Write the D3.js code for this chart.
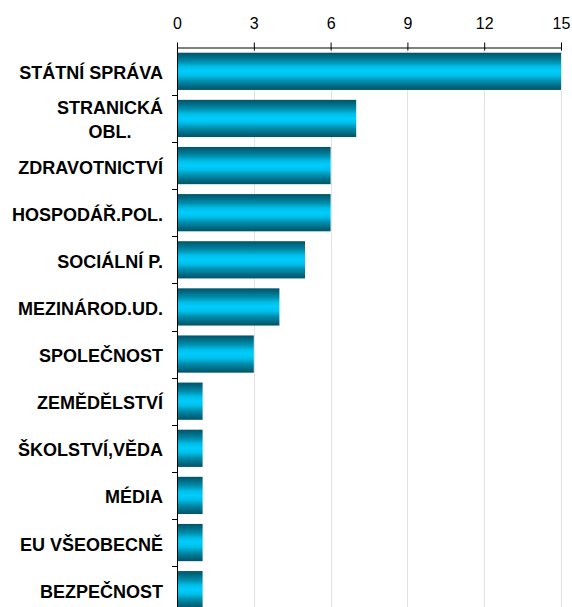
<!DOCTYPE html>
<html>
  <head>
    <meta http-equiv="Content-Type" content="text/html; charset=UTF-8">
    <script src="https://d3js.org/d3.v7.min.js"></script>
    <style>
      body { margin: 0; background: #fff; }
    </style>
  </head>
  <body>
    <div id="chart"></div>
    <script>
      var categories = ["STÁTNÍ SPRÁVA", "STRANICKÁ OBL.", "ZDRAVOTNICTVÍ", "HOSPODÁŘ.POL.",
        "SOCIÁLNÍ P.", "MEZINÁROD.UD.", "SPOLEČNOST", "ZEMĚDĚLSTVÍ",
        "ŠKOLSTVÍ,VĚDA", "MÉDIA", "EU VŠEOBECNĚ", "BEZPEČNOST"];
      var values = [15, 7, 6, 6, 5, 4, 3, 1, 1, 1, 1, 1];
      var tickValues = [0, 3, 6, 9, 12, 15];

      var W = 572, H = 607;
      var plotLeft = 177, plotRight = 561, plotTop = 48, plotBottom = 613;

      var svg = d3.select("#chart").append("svg").attr("width", W).attr("height", H)
        .style("font-family", "Arial, 'Liberation Sans', sans-serif");

      var grad = svg.append("defs").append("linearGradient")
        .attr("id", "cyl").attr("x1", 0).attr("y1", 0).attr("x2", 0).attr("y2", 1);
      [[0, "#005468"], [0.1, "#006a82"], [0.25, "#0090b0"], [0.38, "#00bfe8"],
       [0.5, "#00ccff"], [0.62, "#00bfe8"], [0.75, "#0090b0"], [0.9, "#006a82"], [1, "#005468"]]
        .forEach(function (s) {
          grad.append("stop").attr("offset", s[0]).attr("stop-color", s[1]);
        });

      var x = d3.scaleLinear().domain([0, 15]).range([plotLeft, plotRight]);
      var y = d3.scaleBand().domain(categories).range([plotTop, plotBottom])
        .paddingInner(0.21).paddingOuter(0.1);

      // gridlines
      svg.append("g").selectAll("line").data(tickValues.slice(1)).enter().append("line")
        .attr("x1", d => Math.round(x(d)) + 0.5).attr("x2", d => Math.round(x(d)) + 0.5)
        .attr("y1", plotTop).attr("y2", H)
        .attr("stroke", "#e3e3e3").attr("stroke-width", 1);

      // bars
      svg.append("g").selectAll("rect").data(values).enter().append("rect")
        .attr("x", x(0))
        .attr("y", (d, i) => y(categories[i]))
        .attr("width", d => x(d) - x(0))
        .attr("height", y.bandwidth())
        .attr("fill", "url(#cyl)");

      // top axis
      var xAxis = svg.append("g").attr("transform", "translate(0," + (plotTop - 0.5) + ")")
        .call(d3.axisTop(x).tickValues(tickValues).tickSize(5).tickPadding(14).tickSizeOuter(0));
      xAxis.select(".domain").attr("stroke", "#000");
      xAxis.selectAll(".tick line").attr("y1", 3).attr("stroke", "#000");
      xAxis.selectAll(".tick text").attr("font-size", 16).attr("fill", "#000")
        .style("font-family", "Arial, 'Liberation Sans', sans-serif");

      // left axis line with ticks between categories
      var boundaries = d3.range(1, categories.length + 1)
        .map(i => plotTop + i * (plotBottom - plotTop) / categories.length);
      var yAxis = svg.append("g");
      yAxis.append("line").attr("x1", plotLeft + 0.5).attr("x2", plotLeft + 0.5)
        .attr("y1", plotTop - 0.5).attr("y2", H).attr("stroke", "#000");
      yAxis.selectAll("line.t").data(boundaries).enter().append("line").attr("class", "t")
        .attr("x1", plotLeft - 5).attr("x2", plotLeft)
        .attr("y1", d => Math.round(d) + 0.5).attr("y2", d => Math.round(d) + 0.5)
        .attr("stroke", "#000");

      // category labels (wrapped like the original)
      var labelLines = {"STRANICKÁ OBL.": ["STRANICKÁ", "OBL."]};
      var labelRight = 163;
      categories.forEach(function (c) {
        var cy = y(c) + y.bandwidth() / 2 + 1.5;
        var lines = labelLines[c] || [c];
        var g = svg.append("g");
        var texts = lines.map(function (l, k) {
          return g.append("text").text(l)
            .attr("y", cy + (k - (lines.length - 1) / 2) * 24)
            .attr("dy", "0.36em")
            .attr("font-size", 18).attr("font-weight", "bold").attr("fill", "#000");
        });
        var maxW = d3.max(texts, t => t.node().getComputedTextLength());
        texts.forEach(function (t) {
          t.attr("text-anchor", "middle").attr("x", labelRight - maxW / 2);
        });
      });
    </script>
  </body>
</html>
